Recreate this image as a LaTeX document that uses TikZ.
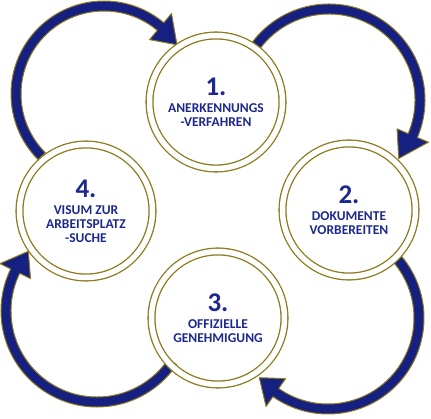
\documentclass[tikz,border=0pt]{standalone}
\usepackage{fontspec}
\setmainfont{Carlito}
\usetikzlibrary{positioning,calc}

\definecolor{ringgold}{RGB}{140,122,28}
\definecolor{arrownavy}{RGB}{22,32,128}
\definecolor{textnavy}{RGB}{28,40,140}

\pgfdeclarelayer{background}
\pgfsetlayers{background,main}

% big number on top of each step
\newcommand{\stepnum}[1]{{\fontsize{27}{27}\selectfont #1}}
% curved arrow: centre, start angle, shaft end angle, tip angle, radius
\newcommand{\looparrow}[5]{%
  \filldraw[looparr] ($(#1)+({#2}:{#5+5})$) arc[start angle=#2, end angle=#3, radius=#5+5]
    -- ($(#1)+({#3}:{#5+17})$) -- ($(#1)+({#4}:{#5})$) -- ($(#1)+({#3}:{#5-17})$)
    -- ($(#1)+({#3}:{#5-5})$) arc[start angle=#3, end angle=#2, radius=#5-5] -- cycle;}

\begin{document}
\begin{tikzpicture}[x=1pt, y=1pt, node distance=1pt, on grid,
    stepcircle/.style={circle, minimum size=133pt, draw=ringgold, line width=1.3pt,
      double=white, double distance=5.5pt, align=center, text=textnavy,
      font=\fontsize{13.5}{14}\selectfont\bfseries},
    looparr/.style={fill=arrownavy, draw=ringgold, line width=1pt, line join=round}]
    \useasboundingbox (0,0) rectangle (431,418);

    \node[stepcircle] (s1) at (216,316) {\stepnum{1.}\\[3pt]ANERKENNUNGS\\-VERFAHREN};
    \node[stepcircle] (s2) [below right=108pt and 133pt of s1] {\stepnum{2.}\\[3pt]DOKUMENTE\\VORBEREITEN};
    \node[stepcircle] (s3) [below left=108pt and 131pt of s2] {\stepnum{3.}\\[3pt]OFFIZIELLE\\GENEHMIGUNG};
    \node[stepcircle] (s4) [above left=107pt and 132pt of s3] {\stepnum{4.}\\[3pt]VISUM ZUR\\ARBEITSPLATZ\\-SUCHE};

    \coordinate (c41) at ($(s4 |- s1)+(18,8)$);
    \coordinate (c12) at ($(s2 |- s1)+(-20,2)$);
    \coordinate (c23) at ($(s2 |- s3)+(-21,0)$);
    \coordinate (c34) at ($(s4 |- s3)+(11,7)$);

    \begin{pgfonlayer}{background}
    \looparrow{c41}{225}{50}{34}{88}
    \looparrow{c12}{146}{-23}{-40}{91}
    \looparrow{c23}{43}{-125}{-139}{91}
    \looparrow{c34}{-34}{-206}{-221}{91}
    \end{pgfonlayer}
\end{tikzpicture}
\end{document}
